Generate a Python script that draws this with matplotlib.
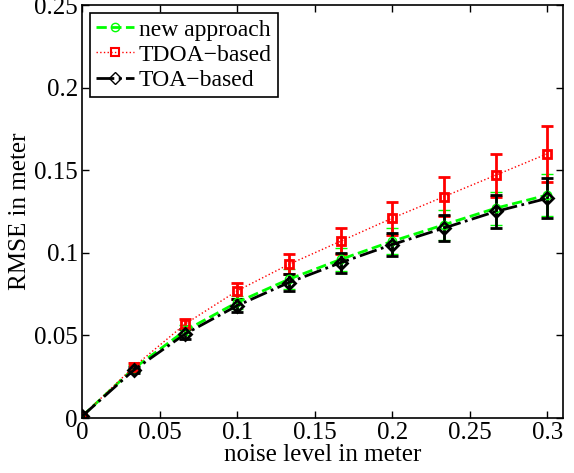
import numpy as np
import matplotlib.pyplot as plt

plt.rcParams["font.family"] = ["Liberation Serif", "DejaVu Serif"]
plt.rcParams["font.size"] = 18

noise = [0, 1 / 30, 2 / 30, 0.1, 4 / 30, 5 / 30, 0.2, 7 / 30, 8 / 30, 0.3]

new_rmse = [0.001, 0.030, 0.053, 0.070, 0.084, 0.096, 0.107, 0.117, 0.127, 0.135]
new_err = [0.0005, 0.002, 0.003, 0.004, 0.006, 0.007, 0.008, 0.009, 0.010, 0.013]

tdoa_rmse = [0.001, 0.031, 0.057, 0.077, 0.093, 0.107, 0.121, 0.134, 0.147, 0.160]
tdoa_err = [0.0005, 0.002, 0.003, 0.005, 0.006, 0.008, 0.010, 0.012, 0.013, 0.017]

toa_rmse = [0.001, 0.029, 0.051, 0.068, 0.082, 0.094, 0.105, 0.115, 0.125, 0.133]
toa_err = [0.0005, 0.002, 0.003, 0.004, 0.005, 0.006, 0.007, 0.008, 0.010, 0.012]

fig = plt.figure(figsize=(5.74, 4.73), dpi=100)
ax = fig.add_axes([82 / 574, 55 / 473, 481 / 574, 413 / 473])

ax.errorbar(noise, new_rmse, yerr=new_err, color=(0, 1, 0), ls="--", lw=2,
            marker="o", ms=6, mfc="none", mew=1, capsize=4, elinewidth=2,
            capthick=2)
ax.errorbar(noise, tdoa_rmse, yerr=tdoa_err, color="red", ls=":", lw=1,
            marker="s", ms=6, mfc="none", mew=2, capsize=4, elinewidth=2,
            capthick=2)
ax.errorbar(noise, toa_rmse, yerr=toa_err, color="black", ls="-.", lw=2,
            marker="D", ms=6, mfc="none", mew=2, capsize=4, elinewidth=2,
            capthick=2)

ax.set_xlim(0, 0.31)
ax.set_ylim(0, 0.25)
ax.set_xticks([0, 0.05, 0.1, 0.15, 0.2, 0.25, 0.3])
ax.set_xticklabels(["0", "0.05", "0.1", "0.15", "0.2", "0.25", "0.3"])
ax.set_yticks([0, 0.05, 0.1, 0.15, 0.2, 0.25])
ax.set_yticklabels(["0", "0.05", "0.1", "0.15", "0.2", "0.25"])
ax.tick_params(direction="in", top=True, right=True, length=5, width=1, pad=3)
for s in ax.spines.values():
    s.set_linewidth(1.2)

ax.set_xlabel("noise level in meter", labelpad=0)
ax.set_ylabel("RMSE in meter", labelpad=2)

h1 = ax.plot([], [], color=(0, 1, 0), ls="--", lw=2, marker="o", ms=6,
             mfc="none", mew=1)[0]
h2 = ax.plot([], [], color="red", ls=":", lw=1, marker="s", ms=6,
             mfc="none", mew=1.5)[0]
h3 = ax.plot([], [], color="black", ls="-.", lw=2, marker="D", ms=6,
             mfc="none", mew=1)[0]
leg = ax.legend([h1, h2, h3], ["new approach", "TDOA\u2212based", "TOA\u2212based"],
                loc="upper left", fancybox=False, edgecolor="black",
                framealpha=1, borderaxespad=0.35, handlelength=1.6,
                handletextpad=0.2, labelspacing=0.15, borderpad=0.25,
                fontsize=17)
leg.get_frame().set_linewidth(1.2)

plt.savefig("out.png", dpi=100)
